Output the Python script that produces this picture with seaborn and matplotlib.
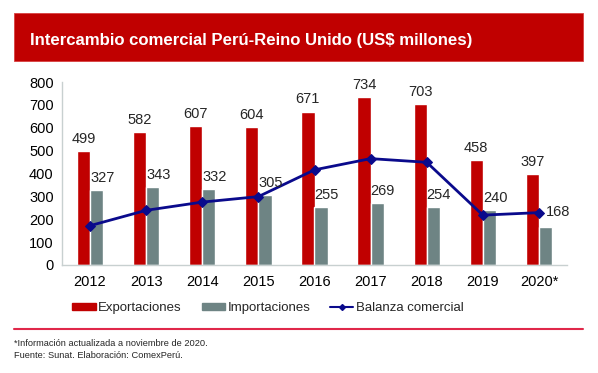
import pandas as pd
import numpy as np
import matplotlib
matplotlib.use("Agg")
import matplotlib.pyplot as plt
import seaborn as sns
from matplotlib.patches import Rectangle
from matplotlib.lines import Line2D

# Data
years = ['2012', '2013', '2014', '2015', '2016', '2017', '2018', '2019', '2020*']
exportaciones = [499, 582, 607, 604, 671, 734, 703, 458, 397]
importaciones = [327, 343, 332, 305, 255, 269, 254, 240, 168]
balanza = [172, 239, 275, 299, 416, 465, 449, 218, 229]

RED = '#C00000'
GRAY = '#6E8484'
NAVY = '#0A0A8C'
AXC = '#C8D0D0'

sns.set_theme(style="white")
plt.rcParams['font.family'] = ['Liberation Sans', 'DejaVu Sans']

df = pd.DataFrame({
    'Año': years * 2,
    'Valor': exportaciones + importaciones,
    'Serie': ['Exportaciones'] * len(years) + ['Importaciones'] * len(years),
})

W, H = 598, 373
fig = plt.figure(figsize=(W / 100, H / 100), dpi=100)
fig.patch.set_facecolor('white')

# Title banner
fig.patches.append(Rectangle((14 / W, 1 - 61 / H), (583 - 14) / W, 48 / H,
                             transform=fig.transFigure, facecolor=RED,
                             edgecolor='#D84040', lw=0.6, zorder=0))
fig.text(30 / W, 1 - 40 / H, 'Intercambio comercial Perú-Reino Unido (US$ millones)',
         color='white', fontsize=12.1, fontweight='bold', va='center', ha='left')

ax = fig.add_axes([62 / W, 1 - 265 / H, (567 - 62) / W, (265 - 82) / H])
sns.barplot(data=df, x='Año', y='Valor', hue='Serie', palette=[RED, GRAY],
            width=0.47, saturation=1, legend=False, ax=ax)
sns.lineplot(x=np.arange(len(years)), y=balanza, color=NAVY, marker='D',
             markersize=5.5, markeredgecolor=NAVY, lw=2, ax=ax)

ax.set_ylim(0, 800)
ax.set_xlim(-0.5, len(years) - 0.5)
ax.set_yticks(range(0, 801, 100))
ax.set_xlabel('')
ax.set_ylabel('')
for s in ['top', 'right']:
    ax.spines[s].set_visible(False)
for s in ['left', 'bottom']:
    ax.spines[s].set_color(AXC)
    ax.spines[s].set_linewidth(1)

ax.set_xticks(np.arange(-0.5, len(years), 1), minor=True)
ax.tick_params(axis='x', which='major', length=0, labelsize=10.5, pad=7)
ax.tick_params(axis='x', which='minor', length=4, color=AXC, width=1, direction='out')
ax.tick_params(axis='y', length=4, color=AXC, width=1, direction='out',
               labelsize=10.5, pad=2)
for t in ax.get_yticklabels() + ax.get_xticklabels():
    t.set_color('black')

# Data labels
bw = 0.235
for i in range(len(years)):
    ax.text(i - bw / 2, exportaciones[i] + 22, str(exportaciones[i]),
            ha='center', va='bottom', fontsize=10.5)
    if i == len(years) - 1:
        ax.text(i + 0.12, balanza[i] + 2, str(importaciones[i]),
                ha='left', va='center', fontsize=10.5)
    else:
        ax.text(i + 0.0, importaciones[i] + 22, str(importaciones[i]),
                ha='left', va='bottom', fontsize=10.5)

# Legend
handles = [Rectangle((0, 0), 1, 1, color=RED),
           Rectangle((0, 0), 1, 1, color=GRAY),
           Line2D([0], [0], color=NAVY, marker='D', markersize=3, lw=1.5)]
fig.legend(handles, ['Exportaciones', 'Importaciones', 'Balanza comercial'],
           loc='center', bbox_to_anchor=(268 / W, 1 - 308 / H), ncol=3,
           frameon=False, fontsize=9.5, handlelength=1.75, handleheight=0.45,
           handletextpad=0.2, columnspacing=1.5)

# Footer
fig.add_artist(Line2D([14 / W, 583 / W], [1 - 329 / H, 1 - 329 / H],
                      transform=fig.transFigure, color='#E0284A', lw=1.5))
fig.text(14 / W, 1 - 343 / H, '*Información actualizada a noviembre de 2020.',
         fontsize=6.7, va='center', ha='left')
fig.text(14 / W, 1 - 356 / H, 'Fuente: Sunat. Elaboración: ComexPerú.',
         fontsize=6.7, va='center', ha='left')

fig.savefig('out.png', dpi=100)
